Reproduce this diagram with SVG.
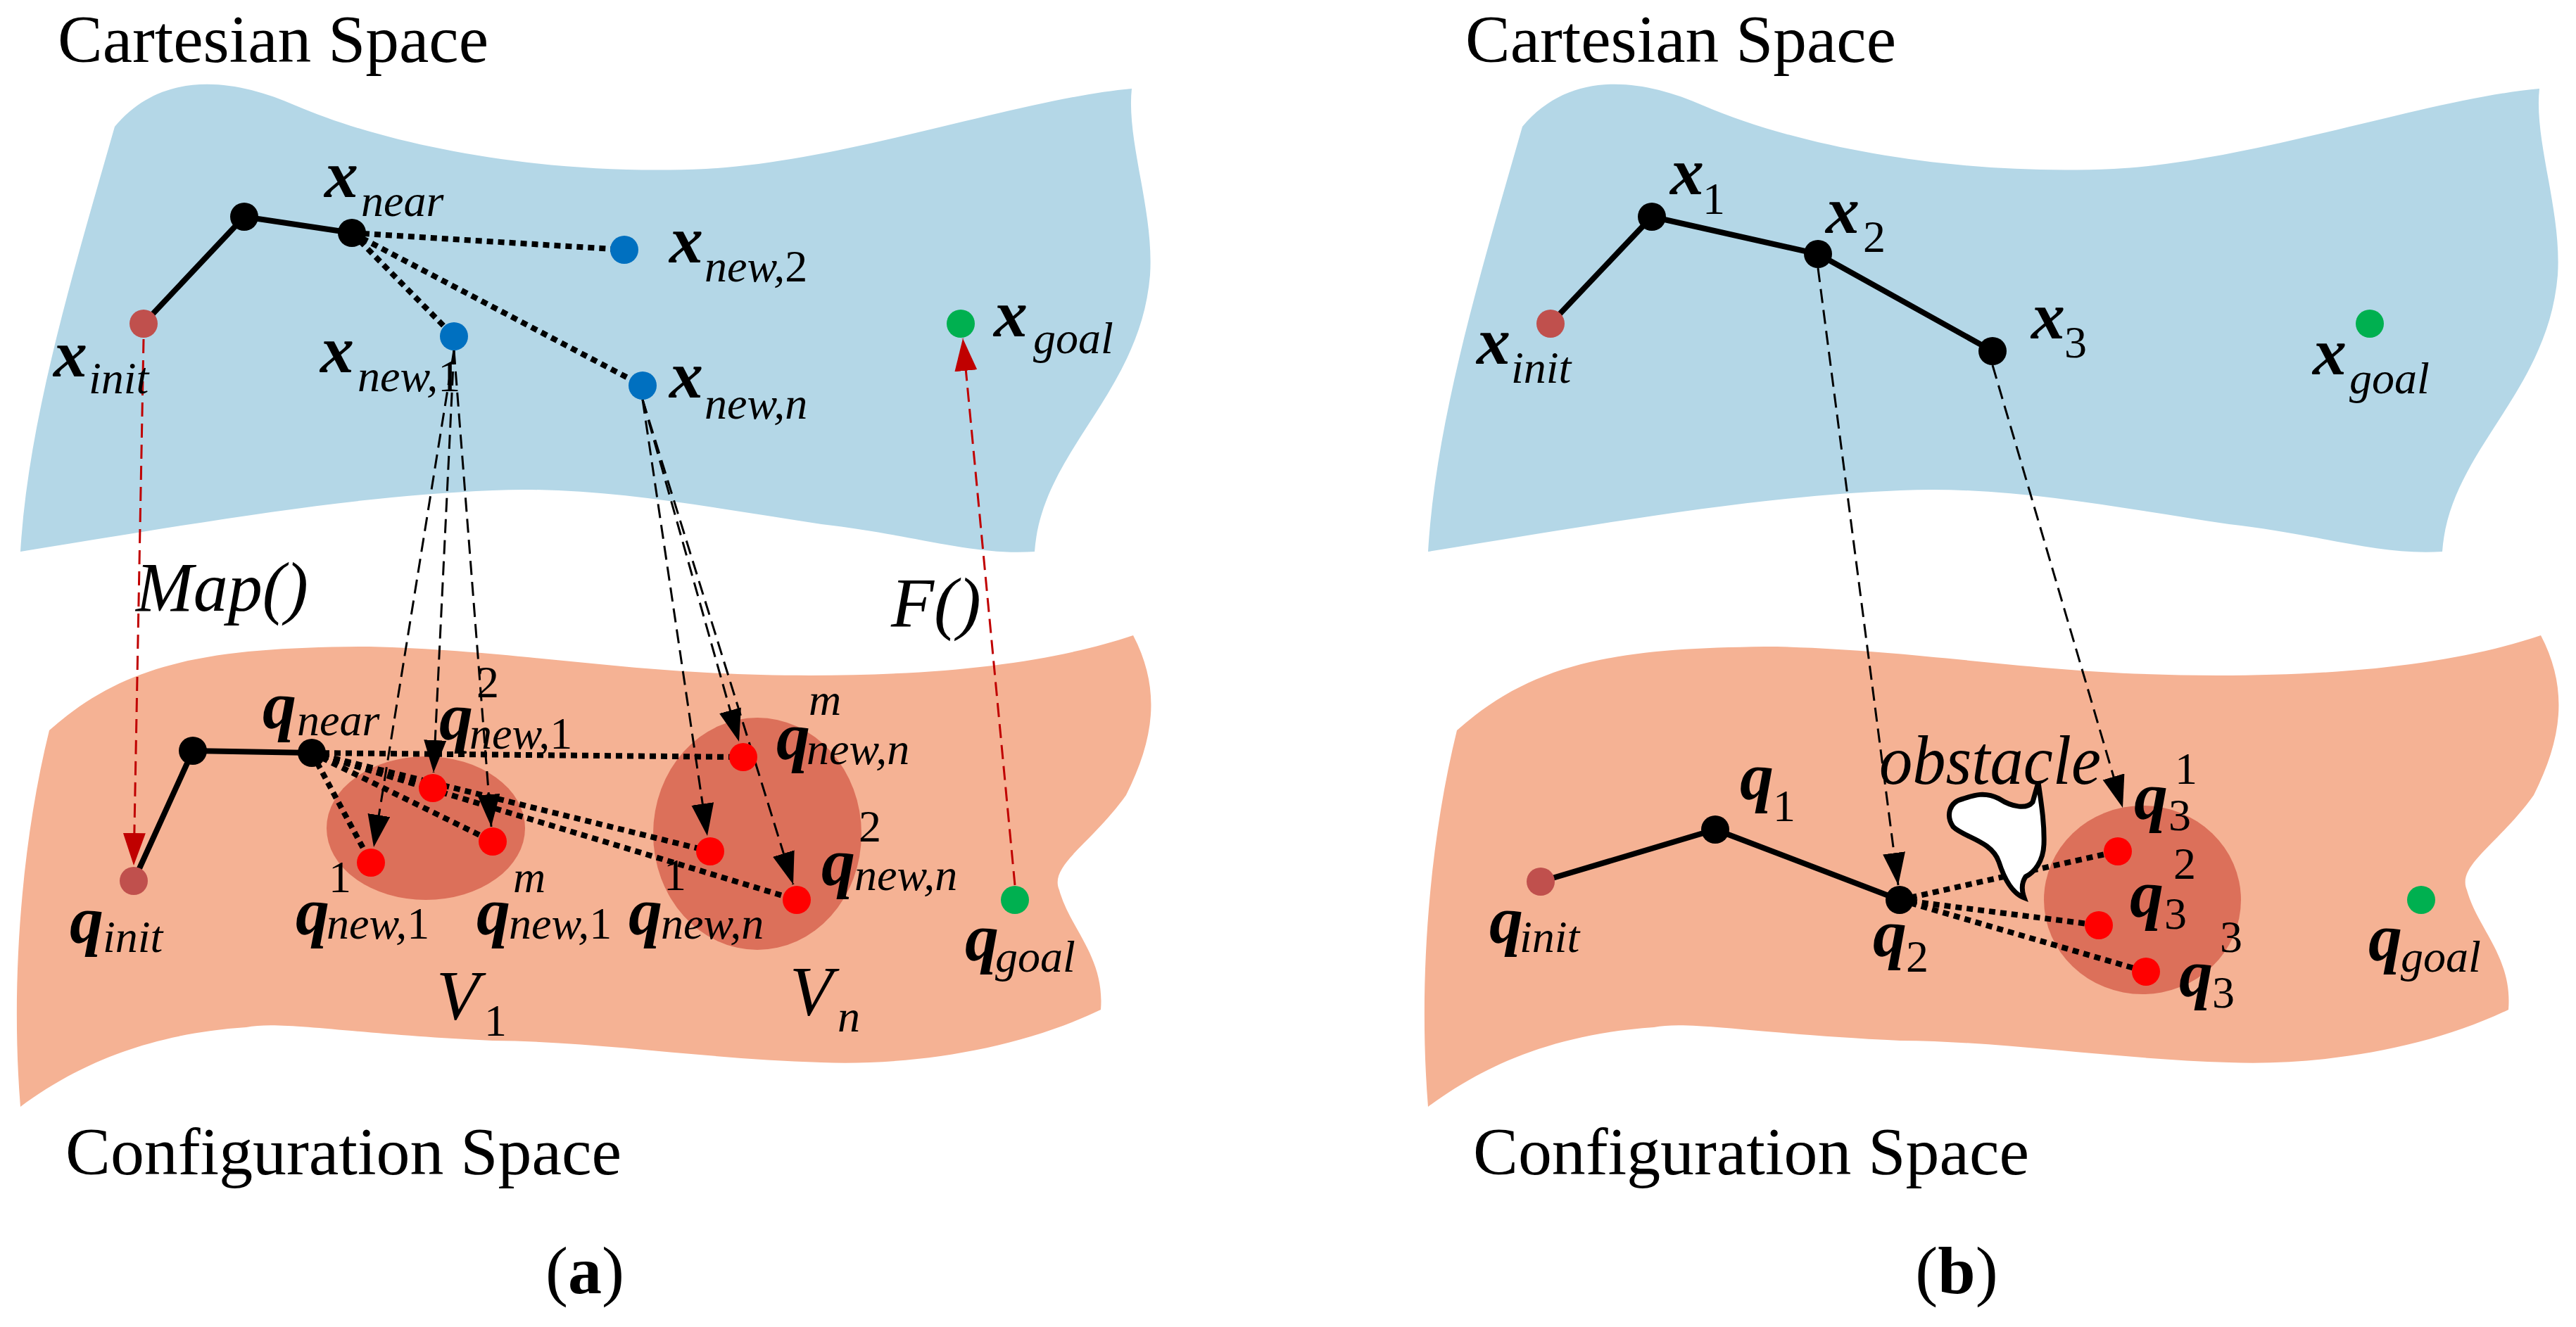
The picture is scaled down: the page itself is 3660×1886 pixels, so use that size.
<svg xmlns="http://www.w3.org/2000/svg" width="3660" height="1886" viewBox="0 0 3660 1886">
<defs>
<style>
.t{font-family:"Liberation Serif",serif;fill:#000}
.big{font-size:96px}
.v{font-size:96px;font-style:italic;font-weight:bold}
.s{font-size:64px;font-style:italic}
.n{font-size:64px}
.it{font-size:100px;font-style:italic}
.solid{stroke:#000;stroke-width:8;fill:none}
.dot{stroke:#000;stroke-width:8;stroke-dasharray:9 7;fill:none}
.dash{stroke:#000;stroke-width:3;stroke-dasharray:20 10;fill:none}
.rdash{stroke:#c00000;stroke-width:3;stroke-dasharray:20 10;fill:none}
</style>
<marker id="ab" markerUnits="userSpaceOnUse" markerWidth="50" markerHeight="36" refX="46" refY="16" orient="auto"><path d="M0,0 L46,16 L0,32 Z" fill="#000"/></marker>
<marker id="ar" markerUnits="userSpaceOnUse" markerWidth="50" markerHeight="36" refX="46" refY="16" orient="auto"><path d="M0,0 L46,16 L0,32 Z" fill="#c00000"/></marker>
<path id="blue" d="M163,180 C230,100 330,110 420,150 C560,210 780,250 1003,240 C1200,230 1450,140 1608,126 C1600,200 1640,300 1634,391 C1620,560 1480,640 1470,784 C1380,790 1300,760 1167,745 C1000,720 850,690 700,697 C500,705 300,740 29,784 C40,600 100,400 163,180 Z"/>
<path id="orange" d="M70,1038 C180,940 300,920 525,919 C750,925 900,960 1150,960 C1350,960 1500,940 1610,903 C1650,980 1640,1050 1600,1130 C1550,1200 1490,1230 1505,1265 C1520,1320 1570,1360 1564,1435 C1450,1490 1300,1515 1167,1510 C1000,1505 850,1480 700,1479 C500,1470 400,1450 350,1460 C200,1470 100,1520 29,1573 C15,1400 30,1200 70,1038 Z"/>
</defs>
<rect width="3660" height="1886" fill="#fff"/>
<g id="panel-a">
<use href="#blue" fill="#b4d7e7"/>
<use href="#orange" fill="#f5b294"/>
<ellipse cx="605" cy="1177" rx="141" ry="102" fill="#dc705a"/>
<ellipse cx="1076" cy="1185" rx="148" ry="165" fill="#dc705a"/>
<text class="t big" x="82" y="88" textLength="612" lengthAdjust="spacingAndGlyphs">Cartesian Space</text>
<text class="t big" x="93" y="1669" textLength="790" lengthAdjust="spacingAndGlyphs">Configuration Space</text>
<text class="t big" x="831" y="1838" text-anchor="middle">(<tspan font-weight="bold">a</tspan>)</text>
<text class="t it" x="193" y="868" textLength="245" lengthAdjust="spacingAndGlyphs">Map()</text>
<text class="t it" x="1266" y="890">F()</text>
</g>
<g id="panel-b">
<use href="#blue" fill="#b4d7e7" transform="translate(2000,0)"/>
<use href="#orange" fill="#f5b294" transform="translate(2000,0)"/>
<ellipse cx="3044" cy="1279" rx="140" ry="134" fill="#dc705a"/>
<text class="t big" x="2082" y="88" textLength="612" lengthAdjust="spacingAndGlyphs">Cartesian Space</text>
<text class="t big" x="2093" y="1669" textLength="790" lengthAdjust="spacingAndGlyphs">Configuration Space</text>
<text class="t big" x="2780" y="1838" text-anchor="middle">(<tspan font-weight="bold">b</tspan>)</text>
</g>
<g id="connectors">
<polyline class="solid" points="204,460 347,308 500,331"/>
<polyline class="solid" points="190,1252 274,1067 443,1070"/>
<line class="dot" x1="500" y1="331" x2="887" y2="355"/>
<line class="dot" x1="500" y1="331" x2="645" y2="478"/>
<line class="dot" x1="500" y1="331" x2="913" y2="548"/>
<line class="dot" x1="443" y1="1070" x2="1056" y2="1076"/>
<line class="dot" x1="443" y1="1070" x2="615" y2="1120"/>
<line class="dot" x1="443" y1="1070" x2="527" y2="1226"/>
<line class="dot" x1="443" y1="1070" x2="700" y2="1196"/>
<line class="dot" x1="443" y1="1070" x2="1009" y2="1210"/>
<line class="dot" x1="443" y1="1070" x2="1132" y2="1279"/>
<line class="rdash" x1="204" y1="482" x2="190" y2="1230" marker-end="url(#ar)"/>
<line class="rdash" x1="1442" y1="1258" x2="1368" y2="481" marker-end="url(#ar)"/>
<line class="dash" x1="645" y1="498" x2="531" y2="1204" marker-end="url(#ab)"/>
<line class="dash" x1="645" y1="498" x2="616" y2="1098" marker-end="url(#ab)"/>
<line class="dash" x1="645" y1="498" x2="698" y2="1175" marker-end="url(#ab)"/>
<line class="dash" x1="913" y1="568" x2="1050" y2="1054" marker-end="url(#ab)"/>
<line class="dash" x1="913" y1="568" x2="1005" y2="1188" marker-end="url(#ab)"/>
<line class="dash" x1="913" y1="568" x2="1127" y2="1257" marker-end="url(#ab)"/>
<polyline class="solid" points="2203,460 2347,308 2583,361 2831,499"/>
<polyline class="solid" points="2189,1253 2437,1179 2699,1279"/>
<line class="dot" x1="2699" y1="1279" x2="3009" y2="1210"/>
<line class="dot" x1="2699" y1="1279" x2="2982" y2="1315"/>
<line class="dot" x1="2699" y1="1279" x2="3049" y2="1381"/>
<line class="dash" x1="2583" y1="381" x2="2697" y2="1258" marker-end="url(#ab)"/>
<line class="dash" x1="2831" y1="519" x2="3016" y2="1148" marker-end="url(#ab)"/>
</g>
<g id="obstacle">
<path d="M2896,1112 C2900,1140 2905,1170 2904,1200 C2903,1225 2890,1240 2878,1246 C2872,1255 2872,1265 2876,1276 C2860,1270 2848,1250 2840,1225 C2830,1195 2790,1190 2775,1175 C2765,1160 2768,1140 2790,1135 C2805,1130 2820,1125 2840,1135 C2860,1148 2880,1150 2888,1140 Z" fill="#fff" stroke="#000" stroke-width="7"/>
<text class="t it" x="2670" y="1114" textLength="315" lengthAdjust="spacingAndGlyphs">obstacle</text>
</g>
<g id="x_init"><circle cx="204" cy="460" r="20" fill="#c0504d"/><text class="t v" x="76" y="535">x</text><text class="t s" x="126" y="559">init</text></g>
<g id="x_mid"><circle cx="347" cy="308" r="20" fill="#000"/></g>
<g id="x_near"><circle cx="500" cy="331" r="20" fill="#000"/><text class="t v" x="461" y="280">x</text><text class="t s" x="513" y="307">near</text></g>
<g id="x_new2"><circle cx="887" cy="355" r="20" fill="#0070c0"/><text class="t v" x="951" y="373">x</text><text class="t s" x="1001" y="400">new,<tspan font-style="normal">2</tspan></text></g>
<g id="x_new1"><circle cx="645" cy="478" r="20" fill="#0070c0"/><text class="t v" x="455" y="529">x</text><text class="t s" x="508" y="556">new,<tspan font-style="normal">1</tspan></text></g>
<g id="x_newn"><circle cx="913" cy="548" r="20" fill="#0070c0"/><text class="t v" x="951" y="565">x</text><text class="t s" x="1001" y="595">new,n</text></g>
<g id="x_goal"><circle cx="1365" cy="460" r="20" fill="#00b050"/><text class="t v" x="1412" y="478">x</text><text class="t s" x="1468" y="502">goal</text></g>
<g id="q_init"><circle cx="190" cy="1252" r="20" fill="#c0504d"/><text class="t v" x="99" y="1340">q</text><text class="t s" x="146" y="1353">init</text></g>
<g id="q_mid"><circle cx="274" cy="1067" r="20" fill="#000"/></g>
<g id="q_near"><circle cx="443" cy="1070" r="20" fill="#000"/><text class="t v" x="373" y="1035">q</text><text class="t s" x="422" y="1045">near</text></g>
<g id="q_new1_2"><circle cx="615" cy="1120" r="20" fill="#f00"/><text class="t v" x="624" y="1051">q</text><text class="t n" x="677" y="991">2</text><text class="t s" x="667" y="1064">new,<tspan font-style="normal">1</tspan></text></g>
<g id="q_new1_1"><circle cx="527" cy="1226" r="20" fill="#f00"/><text class="t v" x="420" y="1328">q</text><text class="t n" x="467" y="1268">1</text><text class="t s" x="464" y="1334">new,<tspan font-style="normal">1</tspan></text></g>
<g id="q_new1_m"><circle cx="700" cy="1196" r="20" fill="#f00"/><text class="t v" x="677" y="1328">q</text><text class="t s" x="729" y="1268">m</text><text class="t s" x="723" y="1334">new,<tspan font-style="normal">1</tspan></text></g>
<g id="q_newn_1"><circle cx="1009" cy="1210" r="20" fill="#f00"/><text class="t v" x="893" y="1328">q</text><text class="t n" x="943" y="1265">1</text><text class="t s" x="939" y="1334">new,n</text></g>
<g id="q_newn_m"><circle cx="1056" cy="1076" r="20" fill="#f00"/><text class="t v" x="1103" y="1079">q</text><text class="t s" x="1149" y="1016">m</text><text class="t s" x="1146" y="1086">new,n</text></g>
<g id="q_newn_2"><circle cx="1132" cy="1279" r="20" fill="#f00"/><text class="t v" x="1167" y="1258">q</text><text class="t n" x="1220" y="1196">2</text><text class="t s" x="1214" y="1265">new,n</text></g>
<g id="V1"><text class="t it" x="620" y="1448">V</text><text class="t n" x="688" y="1472">1</text></g>
<g id="Vn"><text class="t it" x="1122" y="1442">V</text><text class="t s" x="1190" y="1466">n</text></g>
<g id="q_goal"><circle cx="1442" cy="1279" r="20" fill="#00b050"/><text class="t v" x="1371" y="1365">q</text><text class="t s" x="1414" y="1381">goal</text></g>
<g id="bx_init"><circle cx="2203" cy="460" r="20" fill="#c0504d"/><text class="t v" x="2098" y="517">x</text><text class="t s" x="2147" y="544">init</text></g>
<g id="x1"><circle cx="2347" cy="308" r="20" fill="#000"/><text class="t v" x="2373" y="276">x</text><text class="t n" x="2419" y="304">1</text></g>
<g id="x2"><circle cx="2583" cy="361" r="20" fill="#000"/><text class="t v" x="2594" y="331">x</text><text class="t n" x="2647" y="358">2</text></g>
<g id="x3"><circle cx="2831" cy="499" r="20" fill="#000"/><text class="t v" x="2886" y="481">x</text><text class="t n" x="2933" y="508">3</text></g>
<g id="bx_goal"><circle cx="3367" cy="460" r="20" fill="#00b050"/><text class="t v" x="3286" y="532">x</text><text class="t s" x="3338" y="559">goal</text></g>
<g id="bq_init"><circle cx="2189" cy="1253" r="20" fill="#c0504d"/><text class="t v" x="2116" y="1340">q</text><text class="t s" x="2159" y="1353">init</text></g>
<g id="q1"><circle cx="2437" cy="1179" r="20" fill="#000"/><text class="t v" x="2472" y="1136">q</text><text class="t n" x="2519" y="1167">1</text></g>
<g id="q2"><circle cx="2699" cy="1279" r="20" fill="#000"/><text class="t v" x="2661" y="1359">q</text><text class="t n" x="2708" y="1381">2</text></g>
<g id="q3_1"><circle cx="3009" cy="1210" r="20" fill="#f00"/><text class="t v" x="3032" y="1164">q</text><text class="t n" x="3081" y="1180">3</text><text class="t n" x="3090" y="1114">1</text></g>
<g id="q3_2"><circle cx="2982" cy="1315" r="20" fill="#f00"/><text class="t v" x="3026" y="1303">q</text><text class="t n" x="3075" y="1320">3</text><text class="t n" x="3088" y="1249">2</text></g>
<g id="q3_3"><circle cx="3049" cy="1381" r="20" fill="#f00"/><text class="t v" x="3096" y="1416">q</text><text class="t n" x="3143" y="1432">3</text><text class="t n" x="3154" y="1353">3</text></g>
<g id="bq_goal"><circle cx="3440" cy="1279" r="20" fill="#00b050"/><text class="t v" x="3365" y="1365">q</text><text class="t s" x="3411" y="1381">goal</text></g>
</svg>
